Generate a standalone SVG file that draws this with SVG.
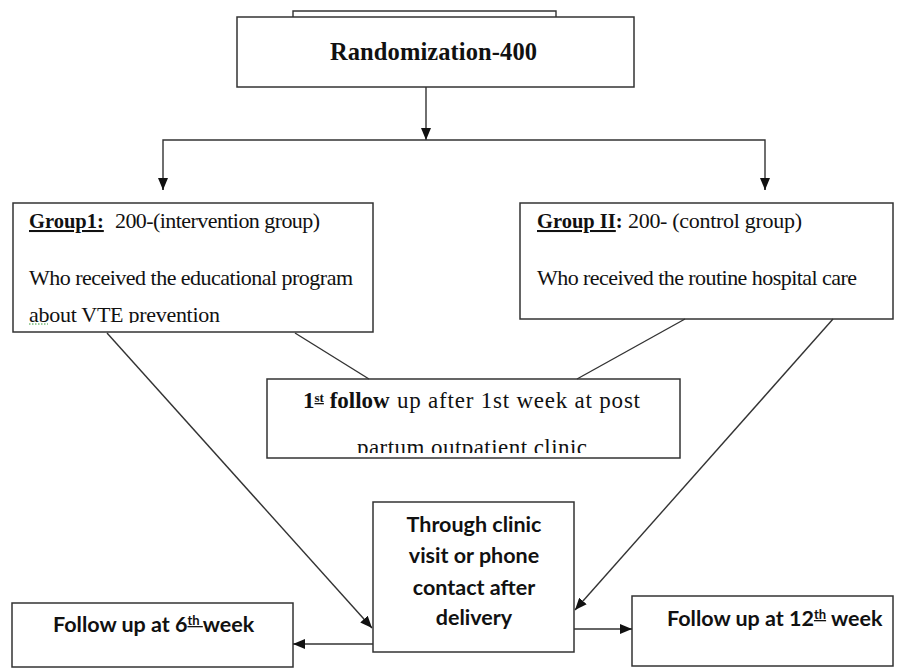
<svg xmlns="http://www.w3.org/2000/svg" width="901" height="668" viewBox="0 0 901 668">
<style>
.box{fill:#fff;stroke:#333;stroke-width:1.5}
.ln{fill:none;stroke:#333;stroke-width:1.4}
.serif{font-family:"Liberation Serif","Times New Roman",serif;font-size:22px;fill:#111}
.lbl{font-size:20.5px}
.big{font-size:24.5px}
.mid{font-size:23px}
.sans{font-family:Lato,"Liberation Sans",sans-serif;font-size:21.5px;font-weight:bold;fill:#111}
.b{font-weight:bold}
.u{text-decoration:underline}
.sup{font-size:13px}
</style>
<defs>
<marker id="ah" markerUnits="userSpaceOnUse" markerWidth="12" markerHeight="10" refX="12" refY="5" orient="auto">
<path d="M0,0 L12,5 L0,10 z" fill="#111"/>
</marker>
<clipPath id="c1"><rect x="14" y="204" width="358" height="119"/></clipPath>
<clipPath id="c2"><rect x="268" y="380" width="411" height="73"/></clipPath>
</defs>

<g id="top-partial">
<path class="ln" d="M293,17 V11 H556 V17"/>
</g>

<g id="randomization">
<rect class="box" x="237" y="17" width="397" height="70"/>
<text class="serif b big" x="433.5" y="60" text-anchor="middle" textLength="207">Randomization-400</text>
</g>

<g id="group1">
<rect class="box" x="13" y="203" width="360" height="129"/>
<text class="serif b u lbl" x="29" y="228">Group1:</text>
<text class="serif" x="115" y="228" textLength="205">200-(intervention group)</text>
<text class="serif" x="29" y="285" textLength="324">Who received the educational program</text>
<g clip-path="url(#c1)">
<text class="serif" x="29" y="322" textLength="191">about  VTE prevention</text>
</g>
<path d="M29,324 h19" stroke="#3a9a3a" stroke-width="1" stroke-dasharray="1.5,1.5" fill="none"/>
</g>

<g id="group2">
<rect class="box" x="520" y="203" width="373" height="116"/>
<text class="serif lbl" x="537" y="228"><tspan class="b u">Group II</tspan><tspan class="b">:</tspan></text>
<text class="serif" x="628" y="228" textLength="174">200- (control  group)</text>
<text class="serif" x="537" y="285" textLength="320">Who received the routine hospital care</text>
</g>

<g id="first-follow">
<rect class="box" x="267" y="379" width="413" height="79"/>
<text class="serif mid" x="303" y="408"><tspan class="b">1</tspan><tspan class="b u sup" baseline-shift="6">st</tspan><tspan class="b"> follow</tspan></text>
<text class="serif mid" x="397" y="408" textLength="243">up after 1st week at post</text>
<g clip-path="url(#c2)">
<text class="serif mid" x="357" y="455" textLength="230">partum outpatient clinic</text>
</g>
</g>

<g id="through">
<rect class="box" x="373" y="502" width="201" height="150"/>
<text class="sans" text-anchor="middle" x="474" y="532">Through clinic</text>
<text class="sans" text-anchor="middle" x="474" y="563">visit or phone</text>
<text class="sans" text-anchor="middle" x="474" y="595">contact after</text>
<text class="sans" text-anchor="middle" x="474" y="625">delivery</text>
</g>

<g id="week6">
<rect class="box" x="12" y="603" width="281" height="64"/>
<text class="sans" x="53" y="632">Follow up at 6<tspan class="u sup" baseline-shift="7">th </tspan>week</text>
</g>

<g id="week12">
<rect class="box" x="632" y="596" width="261" height="70"/>
<text class="sans" x="667" y="626">Follow up at 12<tspan class="u sup" baseline-shift="7">th</tspan> week</text>
</g>

<g id="connectors">
<line class="ln" x1="426" y1="87" x2="426" y2="140" marker-end="url(#ah)"/>
<path class="ln" d="M163,190 V140 H765 V190"/>
<line class="ln" x1="163" y1="180" x2="163" y2="190" marker-end="url(#ah)"/>
<line class="ln" x1="765" y1="180" x2="765" y2="190" marker-end="url(#ah)"/>
<line class="ln" x1="107" y1="333" x2="372" y2="628" marker-end="url(#ah)"/>
<line class="ln" x1="295" y1="333" x2="369" y2="379"/>
<line class="ln" x1="685" y1="319" x2="577" y2="379"/>
<line class="ln" x1="833" y1="319" x2="575" y2="610" marker-end="url(#ah)"/>
<line class="ln" x1="373" y1="644" x2="293" y2="644" marker-end="url(#ah)"/>
<line class="ln" x1="574" y1="629" x2="632" y2="629" marker-end="url(#ah)"/>
</g>
</svg>
